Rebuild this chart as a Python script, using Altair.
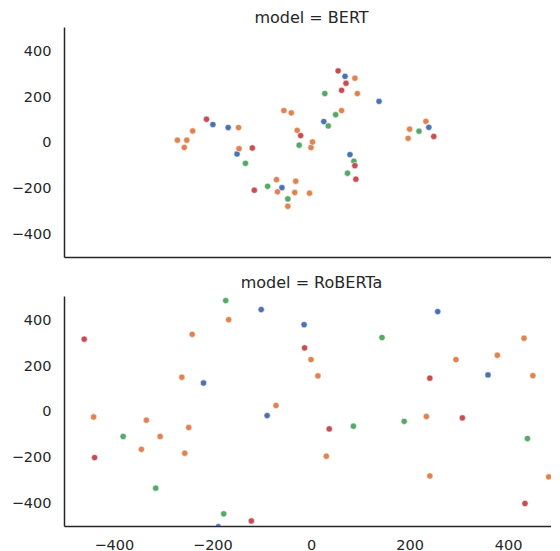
import altair as alt
import pandas as pd

# ---- data ----
groups = ["blue", "orange", "green", "red"]
colors = ["#4C72B0", "#DD8452", "#55A868", "#C44E52"]

bert_blue_x = [-199, -168, -150, -59, 26, 69, 79, 138, 239]
bert_blue_y = [80, 67, -48, -195, 93, 290, -51, 181, 68]
bert_orange_x = [-271, -252, -257, -240, -147, -146, -55, -40, -28, 0, 3, -70, -68, -31, -33, -3, -47, 62, 89, 94, 197, 200, 233]
bert_orange_y = [12, 12, -20, 52, 67, -25, 141, 131, 55, -20, 4, -160, -213, -167, -216, -219, -276, 141, 282, 215, 20, 60, 94]
bert_green_x = [-133, -88, -47, -24, 28, 35, 50, 87, 74, 219]
bert_green_y = [-89, -189, -244, -10, 215, 74, 123, -80, -132, 51]
bert_red_x = [-212, -119, -115, -21, 55, 71, 62, 89, 91, 249]
bert_red_y = [103, -22, -206, 32, 314, 260, 229, -99, -158, 28]

rob_blue_x = [-218, -101, -89, -14, 257, 359, -188]
rob_blue_y = [126, 446, -16, 380, 437, 161, -500]
rob_orange_x = [-441, -334, -306, -344, -262, -241, -248, -256, -167, -71, 0, 14, 31, 234, 241, 294, 378, 432, 450, 482]
rob_orange_y = [-22, -36, -107, -163, 151, 338, -68, -180, 402, 28, 228, 157, -193, -20, -279, 228, 247, 321, 158, -283]
rob_green_x = [-173, -381, -315, -177, 86, 144, 189, 439]
rob_green_y = [485, -107, -332, -444, -62, 324, -41, -116]
rob_red_x = [-460, -439, -13, -121, 37, 241, 307, 434]
rob_red_y = [317, -199, 279, -475, -74, 147, -26, -399]

x_ticks = [-400, -200, 0, 200, 400]
y_ticks = [-400, -200, 0, 200, 400]


def make_df(series):
    rows = []
    for g, xs, ys in series:
        for xv, yv in zip(xs, ys):
            rows.append({"group": g, "x": xv, "y": yv})
    return pd.DataFrame(rows)


bert_df = make_df([
    ("blue", bert_blue_x, bert_blue_y),
    ("orange", bert_orange_x, bert_orange_y),
    ("green", bert_green_x, bert_green_y),
    ("red", bert_red_x, bert_red_y),
])
rob_df = make_df([
    ("blue", rob_blue_x, rob_blue_y),
    ("orange", rob_orange_x, rob_orange_y),
    ("green", rob_green_x, rob_green_y),
    ("red", rob_red_x, rob_red_y),
])

TXT = "#262626"
MINUS = "replace(datum.label, '-', '\u2212')"


def panel(df, title, show_x, title_dy):
    return alt.Chart(df).mark_circle(
        size=40, opacity=1, stroke="white", strokeWidth=0.6, clip=True
    ).encode(
        x=alt.X("x:Q",
                scale=alt.Scale(domain=[-501, 503], nice=False, zero=False),
                axis=alt.Axis(values=x_ticks, labels=show_x, ticks=False, grid=False,
                              title=None, labelPadding=12, labelFontSize=14.5,
                              labelExpr=MINUS,
                              labelColor=TXT, domainColor=TXT, domainWidth=1.5)),
        y=alt.Y("y:Q",
                scale=alt.Scale(domain=[-497, 505], nice=False, zero=False),
                axis=alt.Axis(values=y_ticks, ticks=False, grid=False, title=None,
                              labelPadding=13, labelFontSize=14.5,
                              labelExpr=MINUS,
                              labelColor=TXT, domainColor=TXT, domainWidth=1.5)),
        color=alt.Color("group:N", scale=alt.Scale(domain=groups, range=colors), legend=None),
    ).properties(
        width=495, height=230,
        title=alt.TitleParams(title, fontSize=16, fontWeight="normal", color=TXT,
                              anchor="middle", offset=-1, dy=title_dy),
    )


chart = alt.vconcat(
    panel(bert_df, "model = BERT", False, -2),
    panel(rob_df, "model = RoBERTa", True, -6),
    spacing=18,
).properties(
    padding={"left": 3, "top": 2, "right": -8, "bottom": 0}
).configure(
    font="DejaVu Sans",
).configure_view(
    stroke=None
)

chart.save("out.html", embed_options={"renderer": "svg", "actions": False})
